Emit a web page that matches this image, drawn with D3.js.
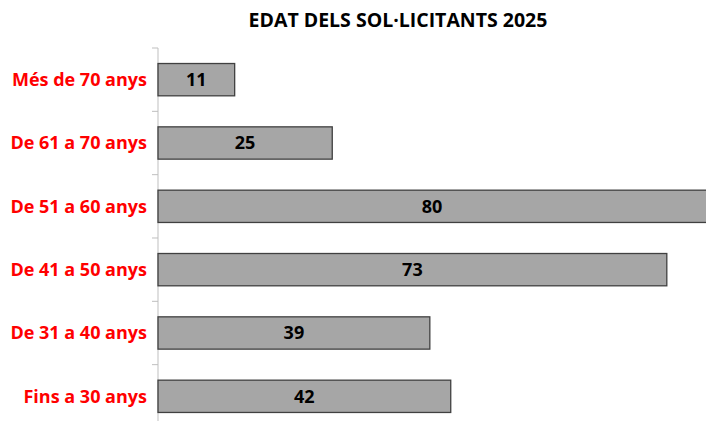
<!DOCTYPE html>
<html>
<head>
<meta charset="utf-8">
<script src="https://cdn.jsdelivr.net/npm/d3@7"></script>
<style>
  body { margin: 0; background: #fff; }
  svg { display: block; font-family: "Open Sans", sans-serif; }
</style>
</head>
<body>
<svg id="chart"></svg>
<script>
var width = 706;
var height = 421;

var categories = ["Més de 70 anys", "De 61 a 70 anys", "De 51 a 60 anys",
                  "De 41 a 50 anys", "De 31 a 40 anys", "Fins a 30 anys"];
var values = [11, 25, 80, 73, 39, 42];

var svg = d3.select('#chart')
    .attr('width', width)
    .attr('height', height);

var marginLeft = 158, marginTop = 48;

var x = d3.scaleLinear().domain([0, 80]).range([marginLeft, marginLeft + 80 * 6.97]);
var y = d3.scaleBand().domain(categories)
    .range([marginTop, marginTop + 6 * 63.33])
    .paddingInner(0.49).paddingOuter(0.245);

svg.append('text')
    .attr('x', 398)
    .attr('y', 27)
    .attr('text-anchor', 'middle')
    .attr('font-size', 19.5)
    .attr('font-weight', 'bold')
    .attr('fill', '#000')
    .text('EDAT DELS SOL·LICITANTS 2025');

// axis line + ticks at band boundaries
svg.append('line')
    .attr('x1', marginLeft).attr('x2', marginLeft)
    .attr('y1', marginTop).attr('y2', marginTop + 6 * 63.33)
    .attr('stroke', '#bfbfbf').attr('stroke-width', 1);

for (var i = 0; i <= categories.length; i++) {
    var ty = marginTop + i * y.step();
    svg.append('line')
        .attr('x1', marginLeft - 6).attr('x2', marginLeft)
        .attr('y1', ty).attr('y2', ty)
        .attr('stroke', '#bfbfbf').attr('stroke-width', 1);
}

svg.selectAll('rect.bar')
    .data(values)
    .enter().append('rect')
    .attr('class', 'bar')
    .attr('x', x(0))
    .attr('y', function(d, i){ return y(categories[i]); })
    .attr('width', function(d){ return x(d) - x(0); })
    .attr('height', y.bandwidth())
    .attr('fill', '#a6a6a6')
    .attr('stroke', '#404040')
    .attr('stroke-width', 1.3);

svg.selectAll('text.val')
    .data(values)
    .enter().append('text')
    .attr('class', 'val')
    .attr('x', function(d){ return (x(0) + Math.min(x(d), width)) / 2; })
    .attr('y', function(d, i){ return y(categories[i]) + y.bandwidth() / 2; })
    .attr('dy', '0.35em')
    .attr('text-anchor', 'middle')
    .attr('font-size', 18)
    .attr('font-weight', 'bold')
    .attr('fill', '#000')
    .text(function(d){ return d; });

svg.selectAll('text.cat')
    .data(categories)
    .enter().append('text')
    .attr('class', 'cat')
    .attr('x', marginLeft - 11)
    .attr('y', function(d){ return y(d) + y.bandwidth() / 2; })
    .attr('dy', '0.35em')
    .attr('text-anchor', 'end')
    .attr('font-size', 18)
    .attr('font-weight', 'bold')
    .attr('fill', '#ff0000')
    .text(function(d){ return d; });
</script>
</body>
</html>
